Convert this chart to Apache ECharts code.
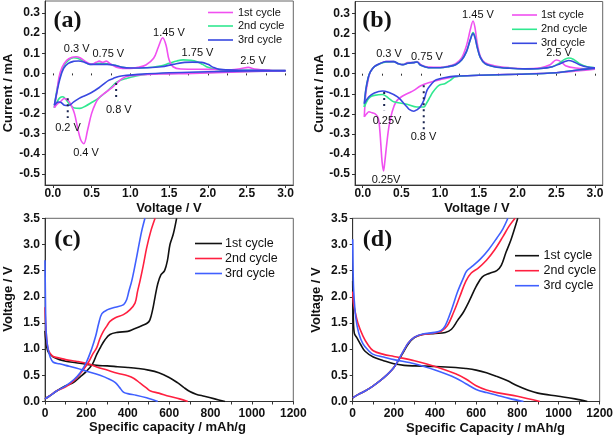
<!DOCTYPE html>
<html><head><meta charset="utf-8">
<script src="https://cdn.jsdelivr.net/npm/echarts@6/dist/echarts.min.js"></script>
<style>html,body{margin:0;padding:0;background:#fff}#c{width:616px;height:438px}</style>
</head><body><div id="c"></div>
<script>
// ---------- Panel (a): CV, [voltage V, current mA] ----------
const aCyc1Cath = [[3.0,0.013],[2.6,0.01],[2.2,0.005],[1.8,0.0],[1.4,-0.003],[1.1,-0.008],[0.95,-0.015],[0.88,-0.03],[0.82,-0.05],[0.75,-0.075],[0.68,-0.095],[0.6,-0.12],[0.55,-0.15],[0.5,-0.2],[0.45,-0.28],[0.4,-0.35],[0.36,-0.33],[0.32,-0.27],[0.28,-0.2],[0.24,-0.16],[0.2,-0.135],[0.15,-0.125],[0.1,-0.14],[0.05,-0.155],[0.02,-0.17]];
const aCyc1Anod = [[0.02,-0.17],[0.05,-0.1],[0.08,-0.02],[0.12,0.03],[0.18,0.065],[0.25,0.08],[0.3,0.083],[0.35,0.078],[0.42,0.06],[0.5,0.045],[0.56,0.055],[0.6,0.061],[0.64,0.055],[0.69,0.061],[0.74,0.048],[0.82,0.03],[0.9,0.025],[1.0,0.025],[1.1,0.03],[1.2,0.042],[1.3,0.075],[1.36,0.13],[1.417,0.177],[1.46,0.14],[1.5,0.066],[1.55,0.033],[1.65,0.022],[2.0,0.02],[2.3,0.018],[2.43,0.024],[2.52,0.03],[2.6,0.022],[2.8,0.016],[3.0,0.014]];
const aCyc2Cath = [[3.0,0.013],[2.5,0.01],[2.0,0.005],[1.5,0.0],[1.2,-0.005],[1.05,-0.015],[0.95,-0.025],[0.88,-0.033],[0.82,-0.045],[0.75,-0.07],[0.68,-0.095],[0.6,-0.12],[0.5,-0.145],[0.42,-0.163],[0.35,-0.174],[0.28,-0.172],[0.22,-0.155],[0.17,-0.13],[0.13,-0.116],[0.09,-0.122],[0.05,-0.145],[0.02,-0.17]];
const aCyc2Anod = [[0.02,-0.17],[0.05,-0.09],[0.09,-0.02],[0.14,0.035],[0.2,0.065],[0.27,0.078],[0.32,0.075],[0.4,0.06],[0.48,0.045],[0.55,0.048],[0.62,0.05],[0.7,0.048],[0.8,0.04],[0.9,0.03],[1.0,0.027],[1.2,0.028],[1.4,0.038],[1.5,0.05],[1.6,0.062],[1.68,0.067],[1.78,0.065],[1.86,0.058],[1.93,0.045],[2.0,0.03],[2.1,0.02],[2.4,0.016],[2.7,0.015],[3.0,0.014]];
const aCyc3Cath = [[3.0,0.013],[2.5,0.012],[2.0,0.008],[1.5,0.003],[1.1,-0.005],[0.95,-0.01],[0.85,-0.015],[0.78,-0.025],[0.72,-0.035],[0.65,-0.055],[0.6,-0.07],[0.5,-0.095],[0.42,-0.11],[0.34,-0.124],[0.27,-0.142],[0.2,-0.16],[0.15,-0.158],[0.1,-0.143],[0.07,-0.142],[0.04,-0.15],[0.02,-0.158]];
const aCyc3Anod = [[0.02,-0.158],[0.05,-0.1],[0.09,-0.03],[0.14,0.025],[0.2,0.05],[0.27,0.06],[0.33,0.062],[0.4,0.057],[0.48,0.045],[0.55,0.045],[0.62,0.045],[0.7,0.045],[0.8,0.04],[0.9,0.03],[1.0,0.027],[1.2,0.028],[1.4,0.033],[1.55,0.045],[1.7,0.055],[1.8,0.056],[1.92,0.055],[2.0,0.045],[2.07,0.03],[2.15,0.02],[2.4,0.016],[2.7,0.015],[3.0,0.014]];
const aMarkLines = [[[0.193,-0.123],[0.193,-0.222]],[[0.817,-0.048],[0.817,-0.133]]];

// ---------- Panel (b): CV ----------
const bCyc1Cath = [[3.0,0.022],[2.8,0.015],[2.5,0.005],[2.0,-0.002],[1.5,-0.008],[1.2,-0.015],[1.0,-0.03],[0.85,-0.045],[0.75,-0.06],[0.66,-0.083],[0.6,-0.095],[0.5,-0.115],[0.43,-0.14],[0.38,-0.19],[0.34,-0.26],[0.31,-0.35],[0.285,-0.44],[0.268,-0.485],[0.25,-0.44],[0.235,-0.36],[0.22,-0.28],[0.2,-0.22],[0.16,-0.2],[0.12,-0.195],[0.08,-0.19],[0.05,-0.2],[0.02,-0.215]];
const bCyc1Anod = [[0.02,-0.215],[0.04,-0.1],[0.07,-0.03],[0.1,0.01],[0.15,0.035],[0.22,0.05],[0.3,0.06],[0.4,0.06],[0.46,0.05],[0.52,0.045],[0.58,0.055],[0.65,0.055],[0.7,0.06],[0.75,0.045],[0.85,0.033],[1.0,0.032],[1.1,0.037],[1.2,0.05],[1.28,0.08],[1.34,0.14],[1.39,0.22],[1.425,0.263],[1.45,0.23],[1.48,0.15],[1.52,0.085],[1.58,0.055],[1.7,0.04],[1.9,0.03],[2.1,0.025],[2.3,0.03],[2.42,0.045],[2.5,0.068],[2.56,0.06],[2.62,0.04],[2.75,0.028],[2.9,0.025],[3.0,0.025]];
const bCyc2Cath = [[3.0,0.028],[2.8,0.02],[2.5,0.005],[2.0,-0.003],[1.5,-0.008],[1.2,-0.015],[1.13,-0.033],[1.06,-0.05],[1.0,-0.055],[0.96,-0.066],[0.9,-0.095],[0.87,-0.116],[0.82,-0.15],[0.79,-0.166],[0.7,-0.166],[0.57,-0.152],[0.4,-0.14],[0.34,-0.124],[0.255,-0.104],[0.15,-0.108],[0.1,-0.115],[0.064,-0.13],[0.02,-0.166]];
const bCyc2Anod = [[0.02,-0.166],[0.04,-0.08],[0.07,-0.02],[0.1,0.01],[0.15,0.035],[0.22,0.05],[0.3,0.058],[0.4,0.06],[0.46,0.05],[0.52,0.045],[0.58,0.052],[0.65,0.055],[0.7,0.058],[0.75,0.042],[0.85,0.03],[1.0,0.03],[1.1,0.035],[1.2,0.045],[1.28,0.07],[1.34,0.11],[1.39,0.17],[1.425,0.205],[1.45,0.185],[1.48,0.13],[1.52,0.08],[1.58,0.05],[1.7,0.035],[1.9,0.027],[2.1,0.024],[2.3,0.026],[2.45,0.035],[2.55,0.055],[2.6,0.07],[2.66,0.078],[2.72,0.072],[2.8,0.05],[2.9,0.035],[3.0,0.03]];
const bCyc3Cath = [[3.0,0.028],[2.8,0.02],[2.5,0.005],[2.0,-0.003],[1.5,-0.008],[1.2,-0.012],[1.05,-0.02],[0.95,-0.03],[0.915,-0.04],[0.87,-0.06],[0.83,-0.083],[0.79,-0.132],[0.745,-0.165],[0.7,-0.18],[0.66,-0.187],[0.6,-0.178],[0.57,-0.165],[0.45,-0.116],[0.32,-0.091],[0.255,-0.086],[0.15,-0.096],[0.08,-0.115],[0.02,-0.149]];
const bCyc3Anod = [[0.02,-0.149],[0.04,-0.08],[0.07,-0.02],[0.1,0.01],[0.15,0.035],[0.22,0.05],[0.3,0.06],[0.4,0.06],[0.46,0.05],[0.52,0.045],[0.58,0.052],[0.65,0.055],[0.7,0.058],[0.75,0.042],[0.85,0.03],[1.0,0.03],[1.1,0.035],[1.2,0.045],[1.28,0.07],[1.34,0.11],[1.39,0.17],[1.425,0.2],[1.45,0.18],[1.48,0.13],[1.52,0.08],[1.58,0.05],[1.7,0.035],[1.9,0.027],[2.1,0.024],[2.3,0.026],[2.45,0.035],[2.55,0.05],[2.62,0.062],[2.66,0.066],[2.72,0.06],[2.8,0.045],[2.9,0.033],[3.0,0.03]];
const bMarkLines = [[[0.277,-0.091],[0.277,-0.182]],[[0.788,-0.058],[0.788,-0.297]]];

// ---------- Panel (c): charge/discharge, [capacity mAh/g, voltage V] ----------
const cCyc1Dis = [[0,1.35],[3,1.2],[8,1.05],[15,0.95],[25,0.9],[40,0.85],[70,0.8],[100,0.77],[150,0.74],[200,0.71],[250,0.69],[300,0.68],[350,0.665],[400,0.65],[450,0.63],[500,0.6],[550,0.55],[600,0.46],[640,0.36],[670,0.27],[700,0.19],[730,0.14],[770,0.1],[820,0.05],[870,0.0]];
const cCyc1Chg = [[0,0.05],[20,0.1],[56,0.2],[100,0.3],[137,0.36],[170,0.47],[201,0.58],[230,0.72],[250,0.9],[270,1.05],[290,1.18],[314,1.28],[350,1.32],[400,1.34],[427,1.38],[470,1.45],[495,1.5],[507,1.56],[520,1.75],[532,2.0],[545,2.25],[560,2.42],[578,2.5],[592,2.7],[604,3.0],[620,3.2],[636,3.5]];
const cCyc2Dis = [[0,1.8],[3,1.5],[8,1.2],[15,1.0],[25,0.92],[40,0.86],[70,0.83],[100,0.8],[150,0.77],[200,0.73],[250,0.66],[300,0.6],[350,0.54],[400,0.49],[430,0.44],[460,0.35],[490,0.26],[510,0.2],[550,0.16],[600,0.1],[650,0.05],[690,0.0]];
const cCyc2Chg = [[0,0.05],[20,0.1],[56,0.2],[100,0.28],[140,0.4],[180,0.58],[210,0.75],[230,0.9],[250,1.03],[265,1.2],[282,1.34],[300,1.45],[314,1.53],[340,1.6],[379,1.66],[410,1.75],[435,1.88],[447,2.1],[459,2.3],[475,2.6],[491,2.93],[511,3.25],[532,3.5]];
const cCyc3Dis = [[0,2.7],[2,2.0],[4,1.5],[8,1.2],[15,1.0],[25,0.85],[40,0.75],[70,0.72],[100,0.69],[150,0.64],[200,0.58],[266,0.5],[314,0.42],[340,0.36],[360,0.27],[379,0.18],[400,0.15],[440,0.12],[491,0.07],[545,0.0]];
const cCyc3Chg = [[0,0.05],[20,0.1],[56,0.2],[100,0.3],[140,0.42],[170,0.55],[200,0.75],[225,1.0],[245,1.25],[260,1.5],[275,1.68],[300,1.75],[340,1.8],[380,1.85],[395,1.95],[405,2.1],[419,2.3],[435,2.6],[451,2.93],[467,3.25],[483,3.5]];

// ---------- Panel (d) ----------
const dCyc1Dis = [[0,2.3],[3,1.6],[8,1.3],[20,1.22],[40,1.08],[60,0.96],[100,0.85],[150,0.78],[200,0.72],[250,0.69],[300,0.68],[400,0.67],[500,0.65],[550,0.63],[600,0.6],[650,0.55],[700,0.48],[750,0.4],[800,0.3],[850,0.22],[900,0.16],[1000,0.1],[1080,0.05],[1140,0.0]];
const dCyc1Chg = [[0,0.07],[30,0.14],[60,0.2],[100,0.3],[150,0.45],[200,0.65],[240,0.9],[270,1.1],[300,1.22],[340,1.28],[400,1.3],[450,1.32],[480,1.38],[510,1.55],[537,1.7],[570,1.95],[600,2.2],[630,2.38],[666,2.45],[700,2.5],[722,2.6],[745,2.85],[770,3.1],[802,3.5]];
const dCyc2Dis = [[0,2.1],[3,1.9],[10,1.75],[25,1.5],[50,1.25],[75,1.08],[100,0.97],[150,0.9],[200,0.86],[300,0.78],[400,0.67],[500,0.53],[550,0.43],[600,0.3],[650,0.22],[700,0.17],[800,0.1],[910,0.0]];
const dCyc2Chg = [[0,0.07],[30,0.14],[60,0.2],[100,0.3],[150,0.45],[200,0.65],[240,0.92],[270,1.12],[300,1.23],[340,1.28],[400,1.31],[430,1.34],[460,1.45],[490,1.7],[520,2.0],[550,2.3],[575,2.45],[610,2.55],[650,2.7],[690,2.9],[730,3.15],[760,3.35],[789,3.5]];
const dCyc3Dis = [[0,3.1],[2,2.5],[5,2.1],[15,1.6],[30,1.3],[50,1.1],[75,0.98],[100,0.9],[150,0.85],[200,0.8],[300,0.72],[400,0.6],[500,0.45],[550,0.34],[600,0.23],[650,0.17],[700,0.12],[760,0.06],[830,0.0]];
const dCyc3Chg = [[0,0.07],[30,0.14],[60,0.2],[100,0.3],[150,0.45],[200,0.65],[240,0.92],[270,1.12],[300,1.23],[340,1.29],[400,1.32],[430,1.36],[450,1.45],[480,1.75],[510,2.1],[540,2.38],[553,2.49],[580,2.58],[620,2.72],[660,2.9],[700,3.12],[730,3.3],[754,3.5]];

// ---------- Tick labels / categories ----------
const cvXTicks = [0,0.5,1.0,1.5,2.0,2.5,3.0];
const cvXMinor = [0,0.25,0.5,0.75,1.0,1.25,1.5,1.75,2.0,2.25,2.5,2.75,3.0];
const cvYTicks = [-0.5,-0.4,-0.3,-0.2,-0.1,0,0.1,0.2,0.3];
const gcXTicks = [0,100,200,300,400,500,600,700,800,900,1000,1100,1200];
const gcXLabels = [0,200,400,600,800,1000,1200];
const cycleNames = ['1st cycle','2nd cycle','3rd cycle'];
const cvColors = ['#f050f0','#30e890','#3848e0'];
const gcColors = ['#111111','#ff2040','#4060ff'];

const FONT = 'Liberation Sans';
const chart = echarts.init(document.getElementById('c'), null, {renderer:'canvas'});

function grid(l,t,w,h){return {left:l,top:t,width:w,height:h,show:true,borderColor:'#666',borderWidth:1,backgroundColor:'transparent',containLabel:false};}
const lblStyle = {fontFamily:FONT,fontWeight:'bold',fontSize:12,color:'#111'};
function cvX(gi){return {type:'value',gridIndex:gi,min:-0.1,max:3.1,
  axisLine:{show:true,onZero:false,lineStyle:{color:'#333'}},
  axisTick:{show:true,inside:false,length:3,customValues:cvXTicks,lineStyle:{color:'#333'}},
  axisLabel:Object.assign({margin:3,customValues:cvXTicks,formatter:v=>v.toFixed(1)},lblStyle),
  splitLine:{show:false}};}
function cvXMin(gi){return {type:'value',gridIndex:gi,min:-0.1,max:3.1,position:'bottom',
  axisLine:{show:false},axisTick:{show:true,inside:false,length:2,customValues:cvXMinor,lineStyle:{color:'#333'}},
  axisLabel:{show:false},splitLine:{show:false}};}
function cvY(gi){return {type:'value',gridIndex:gi,min:-0.555,max:0.36,
  axisLine:{show:true,onZero:false,lineStyle:{color:'#333'}},
  axisTick:{show:true,inside:false,length:3,customValues:cvYTicks,lineStyle:{color:'#333'}},
  axisLabel:Object.assign({margin:5,customValues:cvYTicks,formatter:v=>v.toFixed(1)},lblStyle),
  splitLine:{show:false}};}
function gcX(gi){return {type:'value',gridIndex:gi,min:0,max:1200,
  axisLine:{show:true,onZero:false,lineStyle:{color:'#333'}},
  axisTick:{show:true,inside:false,length:3,customValues:gcXTicks,lineStyle:{color:'#333'}},
  axisLabel:Object.assign({margin:6,customValues:gcXLabels,formatter:v=>String(Math.round(v))},lblStyle),
  splitLine:{show:false}};}
function gcY(gi){return {type:'value',gridIndex:gi,min:0,max:3.5,interval:0.5,
  axisLine:{show:true,onZero:false,lineStyle:{color:'#333'}},
  axisTick:{show:true,inside:false,length:3,lineStyle:{color:'#333'}},
  axisLabel:Object.assign({margin:5,formatter:v=>v.toFixed(1)},lblStyle),
  splitLine:{show:false}};}

function ln(data,color,xi,yi,z){return {type:'line',data:data,xAxisIndex:xi,yAxisIndex:yi,showSymbol:false,symbol:'none',smooth:0.35,
  lineStyle:{color:color,width:1.6},z:z||2,silent:true};}
function dotted(pair,xi,yi){return {type:'line',data:pair,xAxisIndex:xi,yAxisIndex:yi,showSymbol:false,symbol:'none',
  lineStyle:{color:'#1a2550',width:2,type:[2,4]},z:5,silent:true};}

const series = [
  ln(aCyc1Cath,cvColors[0],0,0,3),ln(aCyc1Anod,cvColors[0],0,0,3),
  ln(aCyc2Cath,cvColors[1],0,0,2),ln(aCyc2Anod,cvColors[1],0,0,2),
  ln(aCyc3Cath,cvColors[2],0,0,4),ln(aCyc3Anod,cvColors[2],0,0,4),
  dotted(aMarkLines[0],0,0),dotted(aMarkLines[1],0,0),
  ln(bCyc1Cath,cvColors[0],1,1,2),ln(bCyc1Anod,cvColors[0],1,1,2),
  ln(bCyc2Cath,cvColors[1],1,1,3),ln(bCyc2Anod,cvColors[1],1,1,3),
  ln(bCyc3Cath,cvColors[2],1,1,4),ln(bCyc3Anod,cvColors[2],1,1,4),
  dotted(bMarkLines[0],1,1),dotted(bMarkLines[1],1,1),
  ln(cCyc1Dis,gcColors[0],2,2),ln(cCyc1Chg,gcColors[0],2,2),
  ln(cCyc2Dis,gcColors[1],2,2),ln(cCyc2Chg,gcColors[1],2,2),
  ln(cCyc3Dis,gcColors[2],2,2),ln(cCyc3Chg,gcColors[2],2,2),
  ln(dCyc1Dis,gcColors[0],3,3),ln(dCyc1Chg,gcColors[0],3,3),
  ln(dCyc2Dis,gcColors[1],3,3),ln(dCyc2Chg,gcColors[1],3,3),
  ln(dCyc3Dis,gcColors[2],3,3),ln(dCyc3Chg,gcColors[2],3,3)
];

function txt(s,x,y,size,opts){return Object.assign({type:'text',x:x,y:y,z:10,style:Object.assign({text:s,fill:'#111',font:size+'px "'+FONT+'"',align:'center',verticalAlign:'middle'},opts||{})});}
function title(s,x,y,rot){return {type:'text',x:x,y:y,rotation:rot?Math.PI/2:0,z:10,style:{text:s,fill:'#111',font:'bold 13px "'+FONT+'"',align:'center',verticalAlign:'middle'}};}
function panel(s,x,y){return {type:'text',x:x,y:y,z:10,style:{text:s,fill:'#111',font:'bold 24px "Liberation Serif"',align:'center',verticalAlign:'middle'}};}
function legend(x0,x1,tx,ys,colors,size){const out=[];ys.forEach((y,i)=>{out.push({type:'line',z:10,shape:{x1:x0,y1:y,x2:x1,y2:y},style:{stroke:colors[i],lineWidth:1.6}});
  out.push({type:'text',x:tx,y:y,z:10,style:{text:cycleNames[i],fill:'#111',font:size+'px "'+FONT+'"',align:'left',verticalAlign:'middle'}});});return out;}

const graphics = [].concat(
  [panel('(a)',67.5,21),panel('(b)',377,21),panel('(c)',67.5,240),panel('(d)',377.5,240)],
  [title('Current / mA',8.5,93,true),title('Voltage / V',169,208.5,false),
   title('Current / mA',319,93.5,true),title('Voltage / V',477,208.5,false),
   title('Voltage / V',8.5,299,true),title('Specific capacity / mAh/g',167.5,427,false),
   title('Voltage / V',316,300,true),title('Specific Capacity / mAh/g',485.5,428.5,false)],
  legend(208,233,238,[12.5,26,40],cvColors,11),
  legend(512,537,541,[15,29.3,43.3],cvColors,11),
  legend(195,222,225,[243.5,258.5,273.5],gcColors,12.5),
  legend(515,539,543.5,[255.7,270.7,285.7],gcColors,12.5),
  [txt('0.3 V',76.7,49,11),txt('0.75 V',108.3,54,11),txt('1.45 V',169,33,11),txt('1.75 V',197.5,53,11),txt('2.5 V',253,61,11),
   txt('0.8 V',118.8,110,11),txt('0.2 V',68,128,11),txt('0.4 V',86,153,11)],
  [txt('1.45 V',478,15,11),txt('0.3 V',389,54,11),txt('0.75 V',427,57,11),txt('2.5 V',559,53,11),
   txt('0.25V',387,121,11),txt('0.8 V',423.5,137,11),txt('0.25V',386,180,11)]
);

chart.setOption({
  animation:false,
  backgroundColor:'#fff',
  grid:[grid(45,1,248.3,184),grid(355,1.5,247.7,183.5),grid(45,218.3,248.3,183.2),grid(352.7,218.3,249,183.2)],
  xAxis:[cvX(0),cvX(1),gcX(2),gcX(3),cvXMin(0),cvXMin(1)],
  yAxis:[cvY(0),cvY(1),gcY(2),gcY(3)],
  series:series,
  graphic:graphics
});
</script></body></html>
